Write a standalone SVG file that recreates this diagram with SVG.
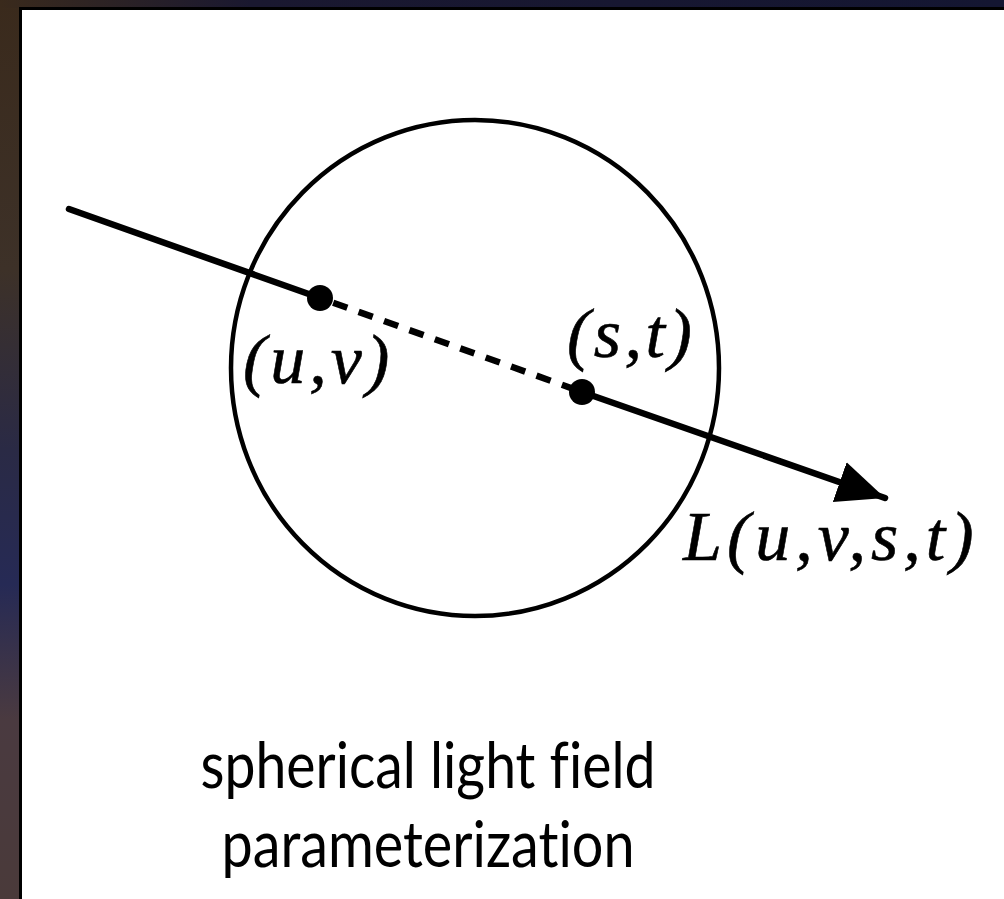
<svg xmlns="http://www.w3.org/2000/svg" width="1004" height="899" viewBox="0 0 1004 899">
  <defs>
    <linearGradient id="leftbg" x1="0" y1="0" x2="0" y2="1">
      <stop offset="0" stop-color="#3a2a1c"/>
      <stop offset="0.3" stop-color="#3d3128"/>
      <stop offset="0.5" stop-color="#2a2a45"/>
      <stop offset="0.65" stop-color="#262a55"/>
      <stop offset="0.8" stop-color="#4a3a40"/>
      <stop offset="1" stop-color="#4a3a3a"/>
    </linearGradient>
    <linearGradient id="topbg" x1="0" y1="0" x2="1" y2="0">
      <stop offset="0" stop-color="#3a2a1c"/>
      <stop offset="0.25" stop-color="#1a1830"/>
      <stop offset="1" stop-color="#141632"/>
    </linearGradient>
    <marker id="arrow" markerUnits="userSpaceOnUse" markerWidth="52" markerHeight="46" refX="48" refY="22" orient="auto">
      <path d="M0,1 L48,22 L0,43 Z" fill="#000"/>
    </marker>
    <style>
      .math { font-family: "Liberation Serif", "Times New Roman", serif; font-style: italic; font-size: 70px; fill: #000; stroke: #000; stroke-width: 0.6; }
      .cap { font-family: "Lato", "Open Sans", sans-serif; font-size: 64px; fill: #000; text-anchor: middle; font-variant-ligatures: none; font-feature-settings: "liga" 0, "clig" 0; }
      .ray { stroke: #000; stroke-width: 6.5; fill: none; stroke-linecap: round; }
    </style>
  </defs>
  <rect x="0" y="0" width="1004" height="899" fill="url(#leftbg)"/>
  <rect x="0" y="0" width="1004" height="8" fill="url(#topbg)"/>
  <rect x="19" y="7" width="985" height="892" fill="#000"/>
  <rect x="22" y="10" width="982" height="889" fill="#fff"/>

  <g id="sphere">
    <ellipse cx="475" cy="368" rx="244" ry="248" fill="none" stroke="#000" stroke-width="4.5"/>
  </g>

  <g id="connectors">
    <line class="ray" x1="69" y1="209" x2="320" y2="298"/>
    <line x1="320" y1="298" x2="582" y2="392" stroke="#000" stroke-width="6.5" stroke-dasharray="15 12" stroke-dashoffset="-14"/>
    <line class="ray" x1="582" y1="392" x2="885" y2="498" stroke-linecap="butt" marker-end="url(#arrow)"/>
  </g>

  <g id="point-uv">
    <circle cx="320" cy="298" r="13" fill="#000"/>
    <text class="math" x="243" y="383" letter-spacing="4">(u,v)</text>
  </g>

  <g id="point-st">
    <circle cx="582" cy="392" r="13" fill="#000"/>
    <text class="math" x="567" y="357" letter-spacing="3.5">(s,t)</text>
  </g>

  <g id="label-L">
    <text class="math" x="683" y="560" letter-spacing="5">L(u,v,s,t)</text>
  </g>

  <g id="caption">
    <text class="cap" x="428" y="788" textLength="455" lengthAdjust="spacingAndGlyphs">spherical light field</text>
    <text class="cap" x="428" y="867" textLength="413" lengthAdjust="spacingAndGlyphs">parameterization</text>
  </g>
</svg>
